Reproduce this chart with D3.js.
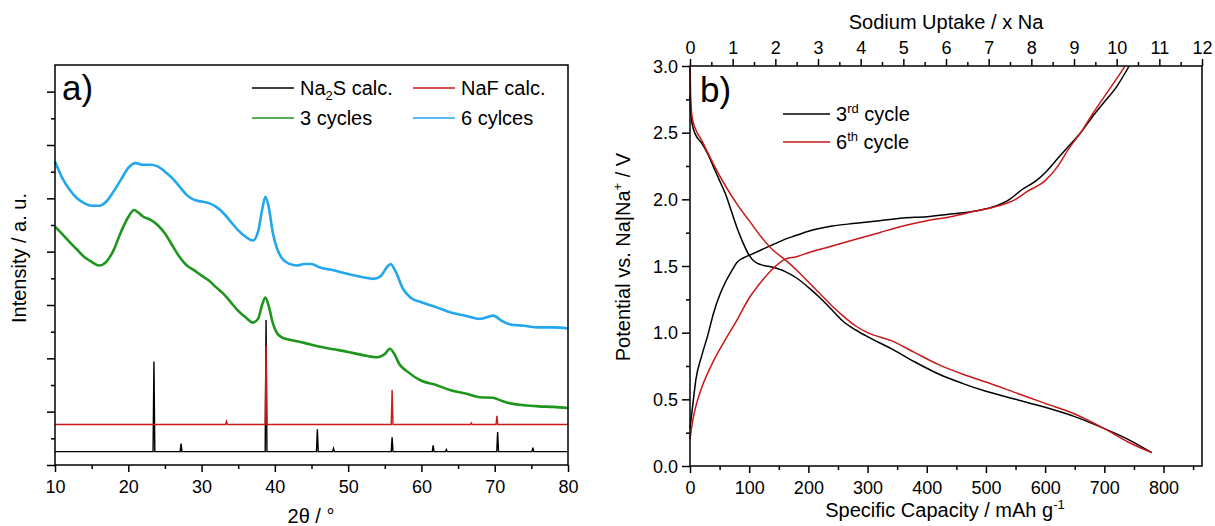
<!DOCTYPE html>
<html><head><meta charset="utf-8">
<script src="https://cdn.jsdelivr.net/npm/d3@7"></script>
<style>
body{margin:0;background:#fff;}
text{font-family:"Liberation Sans",Arial,sans-serif;fill:#000;}
</style></head>
<body><svg id="c" width="1215" height="526"></svg>
<script>
// ---------- Panel a) XRD data ----------
const xrdTicksMajor = [10,20,30,40,50,60,70,80];
const na2sBase = 0.25;
const na2sPeaks = [[23.5,1.69],[27.2,0.15],[38.8,2.47],[45.8,0.42],[48.0,0.06],[56.0,0.27],[61.6,0.12],[63.4,0.04],[70.4,0.37],[75.2,0.075]];
const nafBase = 0.76;
const nafPeaks = [[33.4,0.06],[38.8,1.48],[56.0,0.65],[66.8,0.03],[70.3,0.16]];
const cyc3 = [[10,4.47],[11,4.33],[12,4.18],[13,4.04],[14,3.90],[15,3.81],[16,3.74],[17,3.81],[18,4.03],[19,4.37],[20,4.65],[20.8,4.78],[21.3,4.74],[22,4.66],[23,4.60],[24,4.50],[25,4.34],[26,4.12],[27,3.90],[28,3.74],[29,3.65],[30,3.55],[31,3.46],[32,3.33],[33,3.21],[34,3.05],[35,2.89],[36,2.77],[37,2.67],[37.7,2.74],[38.3,3.02],[38.7,3.14],[39.2,2.96],[39.7,2.67],[40.3,2.47],[41,2.39],[42,2.35],[44,2.29],[46,2.22],[48,2.17],[50,2.12],[52,2.06],[54,2.02],[55,2.08],[55.7,2.18],[56.3,2.08],[57,1.89],[58,1.76],[60,1.58],[62,1.50],[64,1.40],[66,1.34],[68,1.27],[69.7,1.26],[71,1.20],[72,1.16],[74,1.12],[76,1.10],[78,1.09],[80,1.07]];
const cyc6 = [[10,5.69],[11,5.38],[12,5.16],[13,5.00],[14,4.91],[15,4.86],[16,4.86],[17,4.94],[18,5.13],[19,5.35],[20,5.57],[21,5.66],[22,5.63],[23,5.63],[24,5.60],[25,5.50],[26,5.38],[27,5.22],[28,5.06],[29,4.97],[30,4.94],[31,4.91],[32,4.84],[33,4.72],[34,4.56],[35,4.40],[36,4.28],[37,4.21],[37.7,4.37],[38.3,4.81],[38.7,5.03],[39.2,4.81],[39.7,4.37],[40.3,4.06],[41,3.87],[42,3.77],[43,3.74],[44,3.77],[45,3.77],[46,3.71],[48,3.65],[50,3.58],[52,3.52],[53.5,3.49],[54.5,3.55],[55.3,3.71],[55.8,3.77],[56.5,3.62],[57.5,3.30],[58.5,3.14],[60,3.05],[62,2.96],[64,2.86],[66,2.80],[68,2.74],[69.8,2.80],[71,2.70],[72,2.64],[74,2.61],[76,2.58],[78,2.58],[80,2.56]];

// ---------- Panel b) galvanostatic data ----------
const c3Dis = [[0,2.78],[2,2.62],[5,2.54],[10,2.48],[20,2.42],[30,2.34],[40,2.24],[50,2.14],[60,2.04],[70,1.91],[80,1.78],[90,1.67],[100,1.58],[110,1.53],[120,1.51],[140,1.49],[160,1.46],[180,1.41],[200,1.34],[220,1.26],[240,1.17],[260,1.08],[280,1.02],[300,0.97],[340,0.88],[380,0.78],[420,0.69],[460,0.62],[500,0.56],[550,0.50],[600,0.44],[650,0.37],[700,0.28],[740,0.20],[780,0.10]];
const c3Chg = [[0,0.28],[5,0.47],[10,0.65],[20,0.83],[30,0.98],[40,1.15],[50,1.28],[60,1.38],[70,1.46],[80,1.53],[90,1.56],[100,1.58],[120,1.62],[140,1.66],[160,1.70],[180,1.73],[200,1.76],[240,1.80],[280,1.82],[320,1.84],[360,1.86],[400,1.87],[440,1.89],[480,1.91],[510,1.94],[540,2.00],[560,2.07],[585,2.14],[600,2.20],[620,2.30],[640,2.40],[660,2.50],[680,2.62],[700,2.73],[720,2.84],[742,3.00]];
const c6Dis = [[0,3.0],[1,2.8],[3,2.64],[6,2.57],[10,2.52],[20,2.44],[30,2.35],[40,2.26],[60,2.10],[80,1.96],[100,1.84],[120,1.72],[140,1.62],[160,1.55],[180,1.47],[200,1.38],[220,1.29],[240,1.20],[260,1.12],[280,1.05],[300,1.00],[340,0.94],[380,0.85],[420,0.76],[460,0.69],[500,0.63],[550,0.55],[600,0.47],[650,0.39],[700,0.28],[740,0.18],[780,0.10]];
const c6Chg = [[0,0.20],[5,0.35],[10,0.45],[20,0.59],[40,0.79],[60,0.95],[80,1.10],[100,1.26],[120,1.38],[140,1.48],[160,1.55],[180,1.57],[200,1.60],[240,1.65],[280,1.70],[320,1.75],[360,1.80],[400,1.84],[440,1.87],[480,1.91],[520,1.95],[550,2.00],[570,2.06],[600,2.14],[620,2.24],[640,2.38],[660,2.50],[680,2.64],[700,2.77],[720,2.90],[735,3.00]];
const capTicks = [0,100,200,300,400,500,600,700,800];
const naTicks = [0,1,2,3,4,5,6,7,8,9,10,11,12];
const vTicks = [0,0.5,1.0,1.5,2.0,2.5,3.0];

const svg = d3.select("#c");
const AX = 1.5;

// ===== Panel a =====
const xA = d3.scaleLinear().domain([10,80]).range([55,568]);
const yA = d3.scaleLinear().domain([0,7.5]).range([465,65]);

function stickPath(base, peaks){
  const pts = [[10, base]];
  peaks.forEach(([p,h])=>{ pts.push([p-0.12,base],[p,base+h],[p+0.12,base]); });
  pts.push([80,base]);
  return pts;
}
const lineA = d3.line().x(d=>xA(d[0])).y(d=>yA(d[1]));
const lineAs = d3.line().x(d=>xA(d[0])).y(d=>yA(d[1])).curve(d3.curveMonotoneX);

const gA = svg.append("g");
gA.append("path").attr("d", lineA(stickPath(na2sBase, na2sPeaks))).attr("fill","none").attr("stroke","#000").attr("stroke-width",1.4);
gA.append("path").attr("d", lineA(stickPath(nafBase, nafPeaks))).attr("fill","none").attr("stroke","#cc1a1a").attr("stroke-width",1.4);
gA.append("path").attr("d", lineAs(cyc3)).attr("fill","none").attr("stroke","#1e961e").attr("stroke-width",2.6);
gA.append("path").attr("d", lineAs(cyc6)).attr("fill","none").attr("stroke","#22a6ee").attr("stroke-width",2.6);

function addTicks(g, axisFn, scale, major, minor, len, minLen){
  g.append("g").call(axisFn(scale).tickValues(minor).tickSize(minLen).tickFormat(""))
    .call(s=>s.select(".domain").remove()).selectAll("line").attr("stroke-width",AX);
  return g.append("g").call(axisFn(scale).tickValues(major).tickSize(len).tickPadding(4))
    .call(s=>s.select(".domain").remove()).call(s=>s.selectAll("line").attr("stroke-width",AX));
}
const minorA = d3.range(15,80,10);
const bA = gA.append("g").attr("transform","translate(0,465)");
addTicks(bA, d3.axisBottom, xA, xrdTicksMajor, minorA, 7, 4).selectAll("text").style("font-size","18px").attr("dy","0.95em");
const lA = gA.append("g").attr("transform","translate(55,0)");
addTicks(lA, d3.axisLeft, yA, d3.range(0,8,1), d3.range(0.5,7.5,1), 8, 4).selectAll("text").remove();
gA.append("rect").attr("x",55).attr("y",65).attr("width",513).attr("height",400).attr("fill","none").attr("stroke","#000").attr("stroke-width",AX);

gA.append("text").attr("x",62).attr("y",100).style("font-size","35px").text("a)");
gA.append("text").attr("transform","translate(26,258) rotate(-90)").attr("text-anchor","middle").style("font-size","20px").text("Intensity / a. u.");
gA.append("text").attr("x",311).attr("y",523).attr("text-anchor","middle").style("font-size","20px").text("2θ / °");

const legA = [
  {c:"#000", x:252, y:88, t:[["Na",""],["2","sub"],["S calc.",""]]},
  {c:"#cc1a1a", x:413, y:88, t:[["NaF calc.",""]]},
  {c:"#1e961e", x:252, y:118, t:[["3 cycles",""]]},
  {c:"#22a6ee", x:413, y:118, t:[["6 cylces",""]]}
];
legA.forEach(l=>{
  gA.append("line").attr("x1",l.x).attr("x2",l.x+42).attr("y1",l.y).attr("y2",l.y).attr("stroke",l.c).attr("stroke-width",1.5);
  const tx = gA.append("text").attr("x",l.x+48).attr("y",l.y+7).style("font-size","20px");
  l.t.forEach(([s,k])=>{
    const sp = tx.append("tspan").text(s);
    if(k==="sub") sp.attr("dy",5).style("font-size","13px");
    else if(tx.selectAll("tspan").size()>1) sp.attr("dy",-5);
  });
});

// ===== Panel b =====
const xB = d3.scaleLinear().domain([0,865]).range([690,1202]);
const xT = d3.scaleLinear().domain([0,12]).range([690,1202]);
const yB = d3.scaleLinear().domain([0,3]).range([466,66]);
const lineB = d3.line().x(d=>xB(d[0])).y(d=>yB(d[1])).curve(d3.curveMonotoneX);
const gB = svg.append("g");
[[c3Dis,"#000"],[c3Chg,"#000"],[c6Dis,"#c81818"],[c6Chg,"#c81818"]].forEach(([d,c])=>{
  gB.append("path").attr("d", lineB(d)).attr("fill","none").attr("stroke",c).attr("stroke-width",1.5);
});
const bB = gB.append("g").attr("transform","translate(0,466)");
addTicks(bB, d3.axisBottom, xB, capTicks, d3.range(50,865,100), 7, 4).selectAll("text").style("font-size","18px").attr("dy","0.95em");
const tB = gB.append("g").attr("transform","translate(0,66)");
addTicks(tB, d3.axisTop, xT, naTicks, d3.range(0.5,12,1), 7, 4).selectAll("text").style("font-size","18px").attr("dy","-0.05em");
const lB = gB.append("g").attr("transform","translate(690,0)");
addTicks(lB, d3.axisLeft, yB, vTicks, d3.range(0.25,3,0.5), 8, 4).selectAll("text").style("font-size","18px").text(d=>d3.format(".1f")(d)).attr("dy","0.35em");
gB.append("rect").attr("x",690).attr("y",66).attr("width",512).attr("height",400).attr("fill","none").attr("stroke","#000").attr("stroke-width",AX);

gB.append("text").attr("x",700).attr("y",102).style("font-size","35px").text("b)");
gB.append("text").attr("x",946).attr("y",29).attr("text-anchor","middle").style("font-size","20px").text("Sodium Uptake / x Na");
const xt = gB.append("text").attr("x",945).attr("y",517).attr("text-anchor","middle").style("font-size","20px");
xt.append("tspan").text("Specific Capacity / mAh g");
xt.append("tspan").attr("dy",-8).style("font-size","13px").text("-1");
const yt = gB.append("text").attr("transform","translate(630,257) rotate(-90)").attr("text-anchor","middle").style("font-size","20px");
yt.append("tspan").text("Potential vs. Na|Na");
yt.append("tspan").attr("dy",-8).style("font-size","13px").text("+");
yt.append("tspan").attr("dy",8).text(" / V");

const legB = [{c:"#000",y:114,n:"3",s:"rd"},{c:"#c81818",y:142,n:"6",s:"th"}];
legB.forEach(l=>{
  gB.append("line").attr("x1",783).attr("x2",830).attr("y1",l.y).attr("y2",l.y).attr("stroke",l.c).attr("stroke-width",1.5);
  const tx = gB.append("text").attr("x",836).attr("y",l.y+7).style("font-size","20px");
  tx.append("tspan").text(l.n);
  tx.append("tspan").attr("dy",-8).style("font-size","13px").text(l.s);
  tx.append("tspan").attr("dy",8).text(" cycle");
});
</script></body></html>
